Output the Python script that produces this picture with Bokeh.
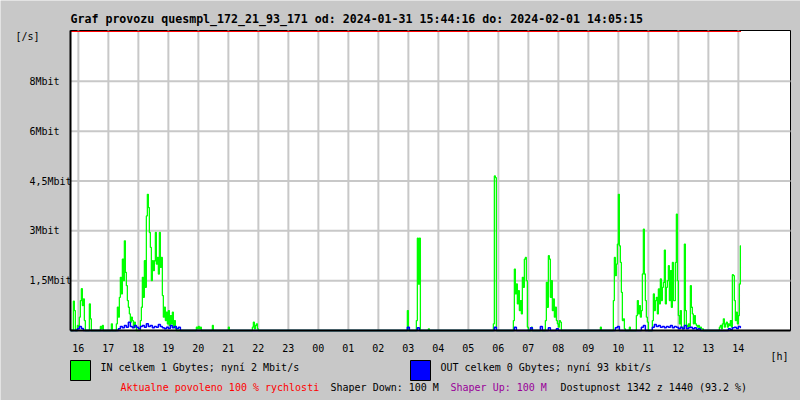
import datetime as dt
from bokeh.plotting import figure
from bokeh.models import Label, BoxAnnotation, FixedTicker, Range1d
from bokeh.embed import file_html
from bokeh.resources import INLINE

# ---------------- data ----------------
TITLE = "Graf provozu quesmpl_172_21_93_171 od: 2024-01-31 15:44:16 do: 2024-02-01 14:05:15"
T0 = dt.datetime(2024, 1, 31, 15, 44, 16)
T_END = dt.datetime(2024, 2, 1, 14, 5, 15)
Y_MAX = 9.0          # Mbit/s at top of scale
ALLOWED_PCT = 100    # "Aktualne povoleno 100 %"

y_ticks = [1.5, 3.0, 4.5, 6.0, 7.5]
y_tick_labels = ["1,5Mbit", "3Mbit", "4,5Mbit", "6Mbit", "8Mbit"]

hour_labels = ["16", "17", "18", "19", "20", "21", "22", "23", "00", "01", "02",
               "03", "04", "05", "06", "07", "08", "09", "10", "11", "12", "13", "14"]

# IN traffic (Mbit/s), bursts sampled every 2 minutes
IN_STEP_MIN = 2
in_starts = ["15:50", "15:58", "16:22", "16:44", "17:06", "17:16", "18:04", "19:56",
             "20:28", "21:00", "21:48", "02:58", "03:16", "03:40", "05:50", "06:30",
             "07:06", "07:34", "09:24", "09:50", "10:22", "10:36", "11:08", "13:22"]
in_values = [
    [0.88, 0.6, 0],
    [0.15, 0.1, 0.4, 0.9, 1.26, 0.75, 0.95, 0.3, 0],
    [0.8, 0.35, 0],
    [0.12, 0.05, 0.15, 0],
    [0.2, 0],
    [0.2, 0.7, 0.4, 1.0, 1.6, 1.1, 2.15, 1.5, 2.7, 1.75, 1.35, 0.9, 0.7, 0.5, 0.25,
     0.4, 0.3, 0.1, 0.25, 0.1, 0],
    [0.3, 0.7, 1.6, 1.0, 2.1, 1.3, 3.45, 4.1, 3.7, 2.95, 2.5, 1.5, 2.1, 1.8, 2.1,
     2.95, 2.0, 2.2, 1.7, 2.95, 1.9, 2.2, 1.05, 0.4, 0.7, 0.3, 0.55, 0.2, 0.6, 0.15,
     0.45, 0.2, 0.55, 0.1, 0.3, 0.05, 0],
    [0.1, 0.05, 0.12, 0.05, 0.1, 0],
    [0.15, 0],
    [0.1, 0],
    [0.1, 0.25, 0.05, 0.15, 0.2, 0.05, 0],
    [0.6, 0],
    [0.3, 2.78, 1.4, 2.78, 0],
    [0.05, 0],
    [0.2, 4.65, 4.6, 0],
    [0.3, 1.85, 1.1, 1.4, 0.8, 1.2, 0.6, 0.9, 0.5, 1.6, 1.3, 2.15, 2.2, 1.5, 0.1, 0],
    [0.1, 0],
    [0.3, 1.45, 0.7, 2.25, 2.15, 1.0, 1.5, 0.6, 0.95, 0.4, 0.7, 0.3, 0.2, 0.1, 0.3, 0.25, 0],
    [0.1, 0],
    [0.9, 2.2, 1.65, 2.0, 2.6, 4.1, 2.55, 2.05, 1.15, 0.3, 0.35, 0.05, 0],
    [0.1, 0],
    [0.45, 0.9, 0.5, 0.75, 0.4, 0.6, 1.7, 3.05, 1.7, 0.9, 0.4, 0.25, 0],
    [0.3, 1.1, 0.6, 0.9, 1.0, 0.5, 1.25, 0.8, 1.55, 0.9, 1.3, 1.45, 2.42, 0.8, 1.3,
     1.5, 1.95, 0.9, 1.8, 0.7, 2.05, 0.9, 0.9, 2.05, 3.5, 1.5, 0.45, 0.2, 0.6, 0.1,
     0.05, 0.1, 2.6, 0.6, 0.15, 0.1, 0.2, 0.1, 1.35, 0.7, 0.5, 0.2, 0.45, 0.2, 0.15,
     0.1, 0.15, 0.05, 0.1, 0.05, 0.05, 0],
    [0.1, 0.15, 0.05, 0.2, 0.35, 0.1, 0.2, 0.25, 0.1, 0.2, 0.15, 0.3, 0.1, 1.68, 1.65,
     0.9, 0.3, 0.55, 0.2, 0.45, 1.4, 2.55],
]

# OUT traffic (Mbit/s), bursts sampled every 4 minutes
OUT_STEP_MIN = 4
out_starts = ["15:58", "17:20", "02:58", "03:18", "05:52", "06:32", "07:04", "07:24",
              "07:40", "07:56", "09:54", "10:46", "11:08", "13:40"]
out_values = [
    [0.05, 0.12, 0.06, 0],
    [0.05, 0.12, 0.08, 0.15, 0.1, 0.25, 0.12, 0.08, 0.15, 0.1, 0.05, 0.12, 0.15, 0.1,
     0.2, 0.12, 0.15, 0.08, 0.12, 0.1, 0.18, 0.12, 0.08, 0.05, 0.1, 0.06, 0.15, 0.08,
     0.12, 0.05, 0.1, 0],
    [0.1, 0],
    [0.08, 0],
    [0.1, 0],
    [0.1, 0],
    [0.08, 0],
    [0.12, 0],
    [0.08, 0],
    [0.05, 0],
    [0.08, 0.12, 0],
    [0.1, 0.15, 0],
    [0.1, 0.18, 0.12, 0.15, 0.1, 0.12, 0.08, 0.12, 0.1, 0.15, 0.08, 0.12, 0.1, 0.05,
     0.1, 0.05, 0.15, 0.05, 0.08, 0.1, 0.05, 0.08, 0.04, 0.05, 0],
    [0.05, 0.03, 0.08, 0.1, 0.06, 0.12, 0.09],
]

legend_in = "IN celkem 1 Gbytes; nyní 2 Mbit/s"
legend_out = "OUT celkem 0 Gbytes; nyní 93 kbit/s"
status_texts = ["Aktualne povoleno 100 % rychlosti", "Shaper Down: 100 M",
                "Shaper Up: 100 M", "Dostupnost 1342 z 1440 (93.2 %)"]
status_colors = ["#ff0000", "black", "#990099", "black"]


# ---------------- helpers ----------------
def at(hhmm):
    h, m = map(int, hhmm.split(":"))
    d = dt.datetime(2024, 1, 31, h, m)
    if d < T0 - dt.timedelta(minutes=1):
        d += dt.timedelta(days=1)
    return d


def build(starts, vals, step):
    xs, ys = [T0], [0.0]
    for s, vs in zip(starts, vals):
        t = at(s)
        for i, v in enumerate(vs):
            xs.append(t + dt.timedelta(minutes=step * i))
            ys.append(v)
    xs.append(T_END)
    ys.append(ys[-1])
    return xs, ys


def ms(d):
    return (d - dt.datetime(1970, 1, 1)).total_seconds() * 1000.0


# ---------------- layout (pixels) ----------------
W, H = 800, 400
CH_L, CH_T, CH_W, CH_H = 70, 30, 720, 300     # chart area in canvas pixels
SPAN = dt.timedelta(hours=24)
Y_TOP = Y_MAX * (CH_H / (CH_H - 1))          # red line sits 1px below top edge
MS_PER_PX = SPAN.total_seconds() * 1000.0 / CH_W
V_PER_PX = Y_TOP / CH_H


def X(px):
    return ms(T0) + (px - CH_L) * MS_PER_PX


def Y(py):
    return (CH_T + CH_H - py) * V_PER_PX


FONT = "DejaVu Sans Mono"
GRAY = "#c8c8c8"
GRID = "#c8c8c8"

p = figure(width=W, height=H, x_axis_type="datetime",
           output_backend="svg", toolbar_location=None,
           min_border=0, min_border_left=0, min_border_right=0,
           min_border_top=0, min_border_bottom=0,
           x_range=Range1d(X(0), X(W)), y_range=Range1d(Y(H), Y(0)))
p.title.visible = False
p.border_fill_color = GRAY
p.background_fill_color = GRAY
p.outline_line_color = None
p.xgrid.grid_line_color = None
p.ygrid.grid_line_color = None

# chart area
p.quad(left=[T0], right=[T0 + SPAN], bottom=[0], top=[Y_TOP],
       fill_color="white", line_color="black", line_width=1)

# grid lines from the tick arrays
hour_times = [dt.datetime(2024, 1, 31, 16) + dt.timedelta(hours=k) for k in range(len(hour_labels))]
hour_ticks = [ms(t) for t in hour_times]
p.segment(x0=hour_times, x1=hour_times, y0=[0] * len(hour_times), y1=[Y_TOP] * len(hour_times),
          line_color=GRID, line_width=2)
p.segment(x0=[T0] * len(y_ticks), x1=[T0 + SPAN] * len(y_ticks), y0=y_ticks, y1=y_ticks,
          line_color=GRID, line_width=2)

# allowed-speed line (red)
p.line([T0, T_END], [Y_MAX * ALLOWED_PCT / 100] * 2, line_color="#ff0000", line_width=1)

xi, yi = build(in_starts, in_values, IN_STEP_MIN)
p.step(xi, yi, mode="after", line_color="#00ff00", line_width=1.3)
xo, yo = build(out_starts, out_values, OUT_STEP_MIN)
p.step(xo, yo, mode="after", line_color="#0000ff", line_width=1.5)

# axes fixed at the chart edges
xa = p.xaxis[0]
xa.fixed_location = 0
xa.bounds = (ms(T0), ms(T0 + SPAN))
xa.ticker = FixedTicker(ticks=hour_ticks)
xa.major_label_overrides = dict(zip(hour_ticks, hour_labels))
xa.major_label_text_font = FONT
xa.major_label_text_font_size = "10px"
xa.major_label_text_color = "black"
xa.major_label_standoff = 13
xa.major_tick_out = 0
xa.major_tick_in = 0
xa.minor_tick_out = 0
xa.minor_tick_in = 0
xa.axis_line_color = "black"
xa.axis_line_width = 2

ya = p.yaxis[0]
ya.fixed_location = ms(T0)
ya.bounds = (0, Y_TOP)
ya.ticker = FixedTicker(ticks=y_ticks)
ya.major_label_overrides = {t: "" for t in y_ticks}
ya.major_tick_out = 0
ya.major_tick_in = 0
ya.minor_tick_out = 0
ya.minor_tick_in = 0
ya.axis_line_color = "black"
ya.axis_line_width = 2


def add_text(txt, px, py, color="black", bold=False, size="10px"):
    p.add_layout(Label(x=X(px), y=Y(py), text=txt,
                       text_font=FONT, text_font_size=size, text_color=color,
                       text_font_style="bold" if bold else "normal",
                       text_baseline="middle", text_align="left"))


# y tick labels (left-aligned, as in the original)
for v, lab in zip(y_ticks, y_tick_labels):
    p.add_layout(Label(x=X(29), y=v, text=lab, text_font=FONT, text_font_size="10px",
                       text_color="black", text_baseline="middle", text_align="left"))

add_text(TITLE, 70, 18, bold=True, size="11.6px")
add_text("[/s]", 15, 36)
add_text("[h]", 770, 356)

# legend swatches
for lx, col in [(70, "#00ff00"), (410, "#0000ff")]:
    p.add_layout(BoxAnnotation(left=X(lx), right=X(lx + 20), top=Y(360), bottom=Y(380),
                               fill_color=col, fill_alpha=1,
                               line_color="black", line_width=1, line_alpha=1))
add_text(legend_in, 100, 367)
add_text(legend_out, 440, 367)

for txt, c, sx in zip(status_texts, status_colors, [120, 330, 450, 560]):
    add_text(txt, sx, 387, color=c)

open("out.html", "w").write(file_html(p, INLINE))
